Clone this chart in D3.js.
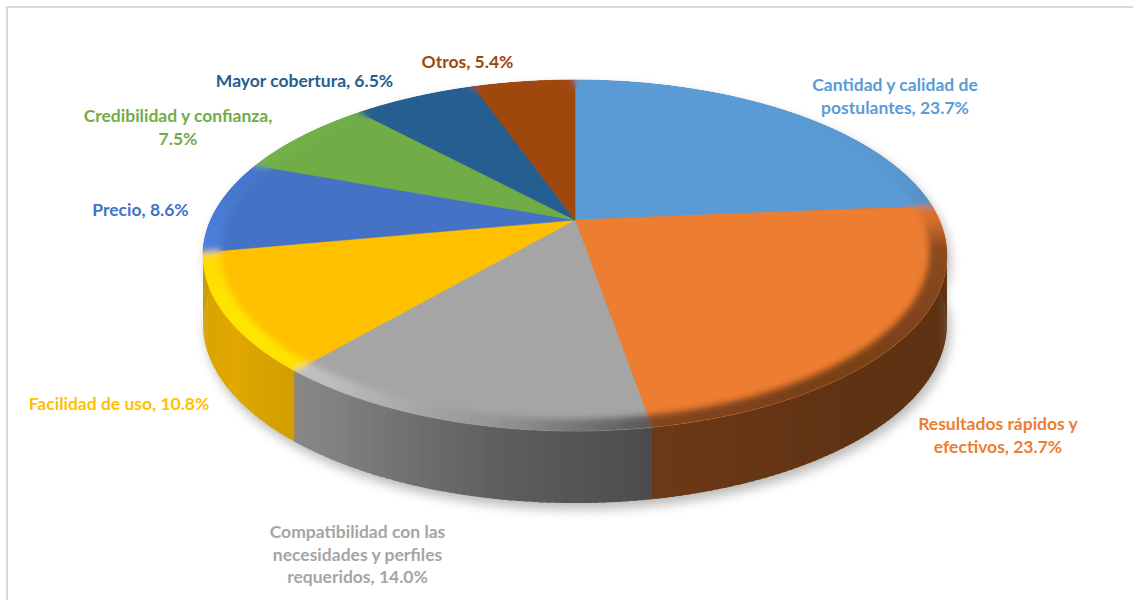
<!DOCTYPE html>
<html>
<head>
<meta charset="utf-8">
<script src="https://cdn.jsdelivr.net/npm/d3@7"></script>
<style>
  html, body { margin: 0; padding: 0; background: #fff; }
  svg { display: block; }
</style>
</head>
<body>
<svg id="chart" width="1133" height="600"></svg>
<script>
// ---- data ----
const categories = [
  "Cantidad y calidad de postulantes",
  "Resultados rápidos y efectivos",
  "Compatibilidad con las necesidades y perfiles requeridos",
  "Facilidad de uso",
  "Precio",
  "Credibilidad y confianza",
  "Mayor cobertura",
  "Otros"
];
const shares = [23.7, 23.7, 14.0, 10.8, 8.6, 7.5, 6.5, 5.4];
const sliceColors = ["#5B9BD5", "#ED7D31", "#A5A5A5", "#FFC000", "#4472C4", "#70AD47", "#255E91", "#9E480E"];

// ---- layout ----
const svg = d3.select("#chart");
const fmt = v => d3.format(".1f")(v) + "%";

// perspective disc: angle clockwise from the far point, radius in disc units
const geo = { cx: 575, cy: 220, k: 364.3, a: 123.8, c: 0.2023, depth: 72 };
function project(theta, r, drop) {
  const x = r * Math.sin(theta), y = r * Math.cos(theta);
  const w = 1 + geo.c * y;
  return [geo.cx + geo.k * x / w, (geo.cy - geo.a * y) / w + drop * Math.pow(0.8 / w, 0.3)];
}
const STEP = Math.PI / 360;
function arcPts(a0, a1, r, drop) {
  const n = Math.max(1, Math.ceil((a1 - a0) / STEP));
  return d3.range(n + 1).map(i => project(a0 + (a1 - a0) * i / n, r, drop));
}
const line = pts => "M" + pts.map(p => p[0].toFixed(2) + "," + p[1].toFixed(2)).join("L") + "Z";

function shade(col, f) {
  const c = d3.rgb(col);
  return d3.rgb(Math.min(255, c.r * f), Math.min(255, c.g * f), Math.min(255, c.b * f)).formatHex();
}
const deg = t => ((t * 180 / Math.PI) % 360 + 360) % 360;
const wallLight = d3.scaleLinear()
  .domain([0, 60, 100, 140, 171, 190, 215, 235, 255, 275, 360])
  .range([0.45, 0.42, 0.40, 0.40, 0.46, 0.58, 0.80, 0.88, 0.84, 0.78, 0.60]);
const bevelLight = d3.scaleLinear()
  .domain([0, 40, 75, 90, 100, 140, 171, 190, 215, 235, 255, 280, 320, 360])
  .range([1.0, 1.0, 0.97, 0.9, 0.58, 0.5, 0.55, 0.9, 1.15, 1.2, 1.15, 1.05, 1.0, 1.0]);

const pie = d3.pie().sort(null).value(d => d)(shares);

const defs = svg.append("defs");
defs.append("filter").attr("id", "soft").attr("x", "-20%").attr("y", "-20%").attr("width", "140%").attr("height", "140%")
  .append("feGaussianBlur").attr("stdDeviation", 6);
defs.append("filter").attr("id", "bevelBlur").attr("x", "-10%").attr("y", "-10%").attr("width", "120%").attr("height", "120%")
  .append("feGaussianBlur").attr("stdDeviation", 3);
const fullTop = arcPts(0, 2 * Math.PI, 1, 0);
defs.append("clipPath").attr("id", "topClip").append("path").attr("d", line(fullTop));

// chart frame
svg.append("rect").attr("width", 1133).attr("height", 600).attr("fill", "#fff");
svg.append("rect").attr("x", 7).attr("y", 7).attr("width", 1300).attr("height", 800)
  .attr("fill", "none").attr("stroke", "#d9d9d9").attr("stroke-width", 2);

// soft shadow under the disc
const shadow = svg.append("g").attr("transform", "translate(3,6)")
  .attr("opacity", 0.28).attr("filter", "url(#soft)");
shadow.append("path").attr("d", line(fullTop)).attr("fill", "#000");
shadow.append("path").attr("d", line(arcPts(0, 2 * Math.PI, 1, geo.depth))).attr("fill", "#000");

// side walls, painted far to near; each strip overlaps the next to hide seams
const walls = [];
pie.forEach((d, i) => {
  const n = Math.max(1, Math.ceil((d.endAngle - d.startAngle) / (Math.PI / 180)));
  for (let j = 0; j < n; j++) {
    const t0 = d.startAngle + (d.endAngle - d.startAngle) * j / n;
    const t1 = d.startAngle + (d.endAngle - d.startAngle) * (j + 1) / n;
    const tm = (t0 + t1) / 2;
    const over = j < n - 1 ? 0.006 : 0.002;
    walls.push({ i, t0: t0 - 0.001, t1: t1 + over, key: Math.cos(tm), col: shade(sliceColors[i], wallLight(deg(tm))) });
  }
});
walls.sort((a, b) => b.key - a.key);
svg.append("g").selectAll("path").data(walls).join("path")
  .attr("d", w => line([project(w.t0, 1, 0), project(w.t1, 1, 0), project(w.t1, 1, geo.depth), project(w.t0, 1, geo.depth)]))
  .attr("fill", w => w.col);

// top faces
svg.append("g").selectAll("path").data(pie).join("path")
  .attr("d", d => line([project(0, 0, 0), ...arcPts(d.startAngle, d.endAngle, 1, 0)]))
  .attr("fill", (d, i) => sliceColors[i])
  .attr("stroke", (d, i) => sliceColors[i]).attr("stroke-width", 0.6)
  .attr("stroke-linejoin", "round");

// bevelled rim on the top faces
const bevels = [];
pie.forEach((d, i) => {
  const n = Math.max(1, Math.ceil((d.endAngle - d.startAngle) / (Math.PI / 90)));
  for (let j = 0; j < n; j++) {
    const t0 = d.startAngle + (d.endAngle - d.startAngle) * j / n;
    const t1 = d.startAngle + (d.endAngle - d.startAngle) * (j + 1) / n;
    bevels.push({ t0, t1, col: shade(sliceColors[i], bevelLight(deg((t0 + t1) / 2))) });
  }
});
svg.append("g").attr("clip-path", "url(#topClip)")
  .append("g").attr("filter", "url(#bevelBlur)")
  .selectAll("path").data(bevels).join("path")
  .attr("d", b => line([project(b.t0, 0.955, 0), project(b.t1, 0.955, 0), project(b.t1, 1.06, 0), project(b.t0, 1.06, 0)]))
  .attr("fill", b => b.col).attr("stroke", b => b.col).attr("stroke-width", 0.6);

// data labels
const labelBreaks = [[4], [3], [3, 6], [], [], [3], [], []];
const labelSpots = [
  { x: 895, y: 85 }, { x: 998, y: 424 }, { x: 357.5, y: 532 }, { x: 119, y: 404 },
  { x: 140.5, y: 210 }, { x: 178, y: 116 }, { x: 304.5, y: 81 }, { x: 467.5, y: 62 }
];
const lineGap = 22.5;
function labelLines(i) {
  const words = `${categories[i]}, ${fmt(shares[i])}`.split(" ");
  const b = [0, ...labelBreaks[i], words.length];
  return d3.range(b.length - 1).map(j => words.slice(b[j], b[j + 1]).join(" "));
}
const labels = svg.append("g")
  .attr("font-family", "Lato, 'Open Sans', sans-serif")
  .attr("font-weight", 700).attr("font-size", 17.5).attr("text-anchor", "middle");
labels.selectAll("text").data(shares).join("text")
  .attr("fill", (d, i) => sliceColors[i])
  .attr("transform", (d, i) => `translate(${labelSpots[i].x},${labelSpots[i].y + 6})`)
  .each(function (d, i) {
    d3.select(this).selectAll("tspan").data(labelLines(i)).join("tspan")
      .attr("x", 0).attr("y", (t, j) => j * lineGap).text(t => t);
  });
</script>
</body>
</html>
